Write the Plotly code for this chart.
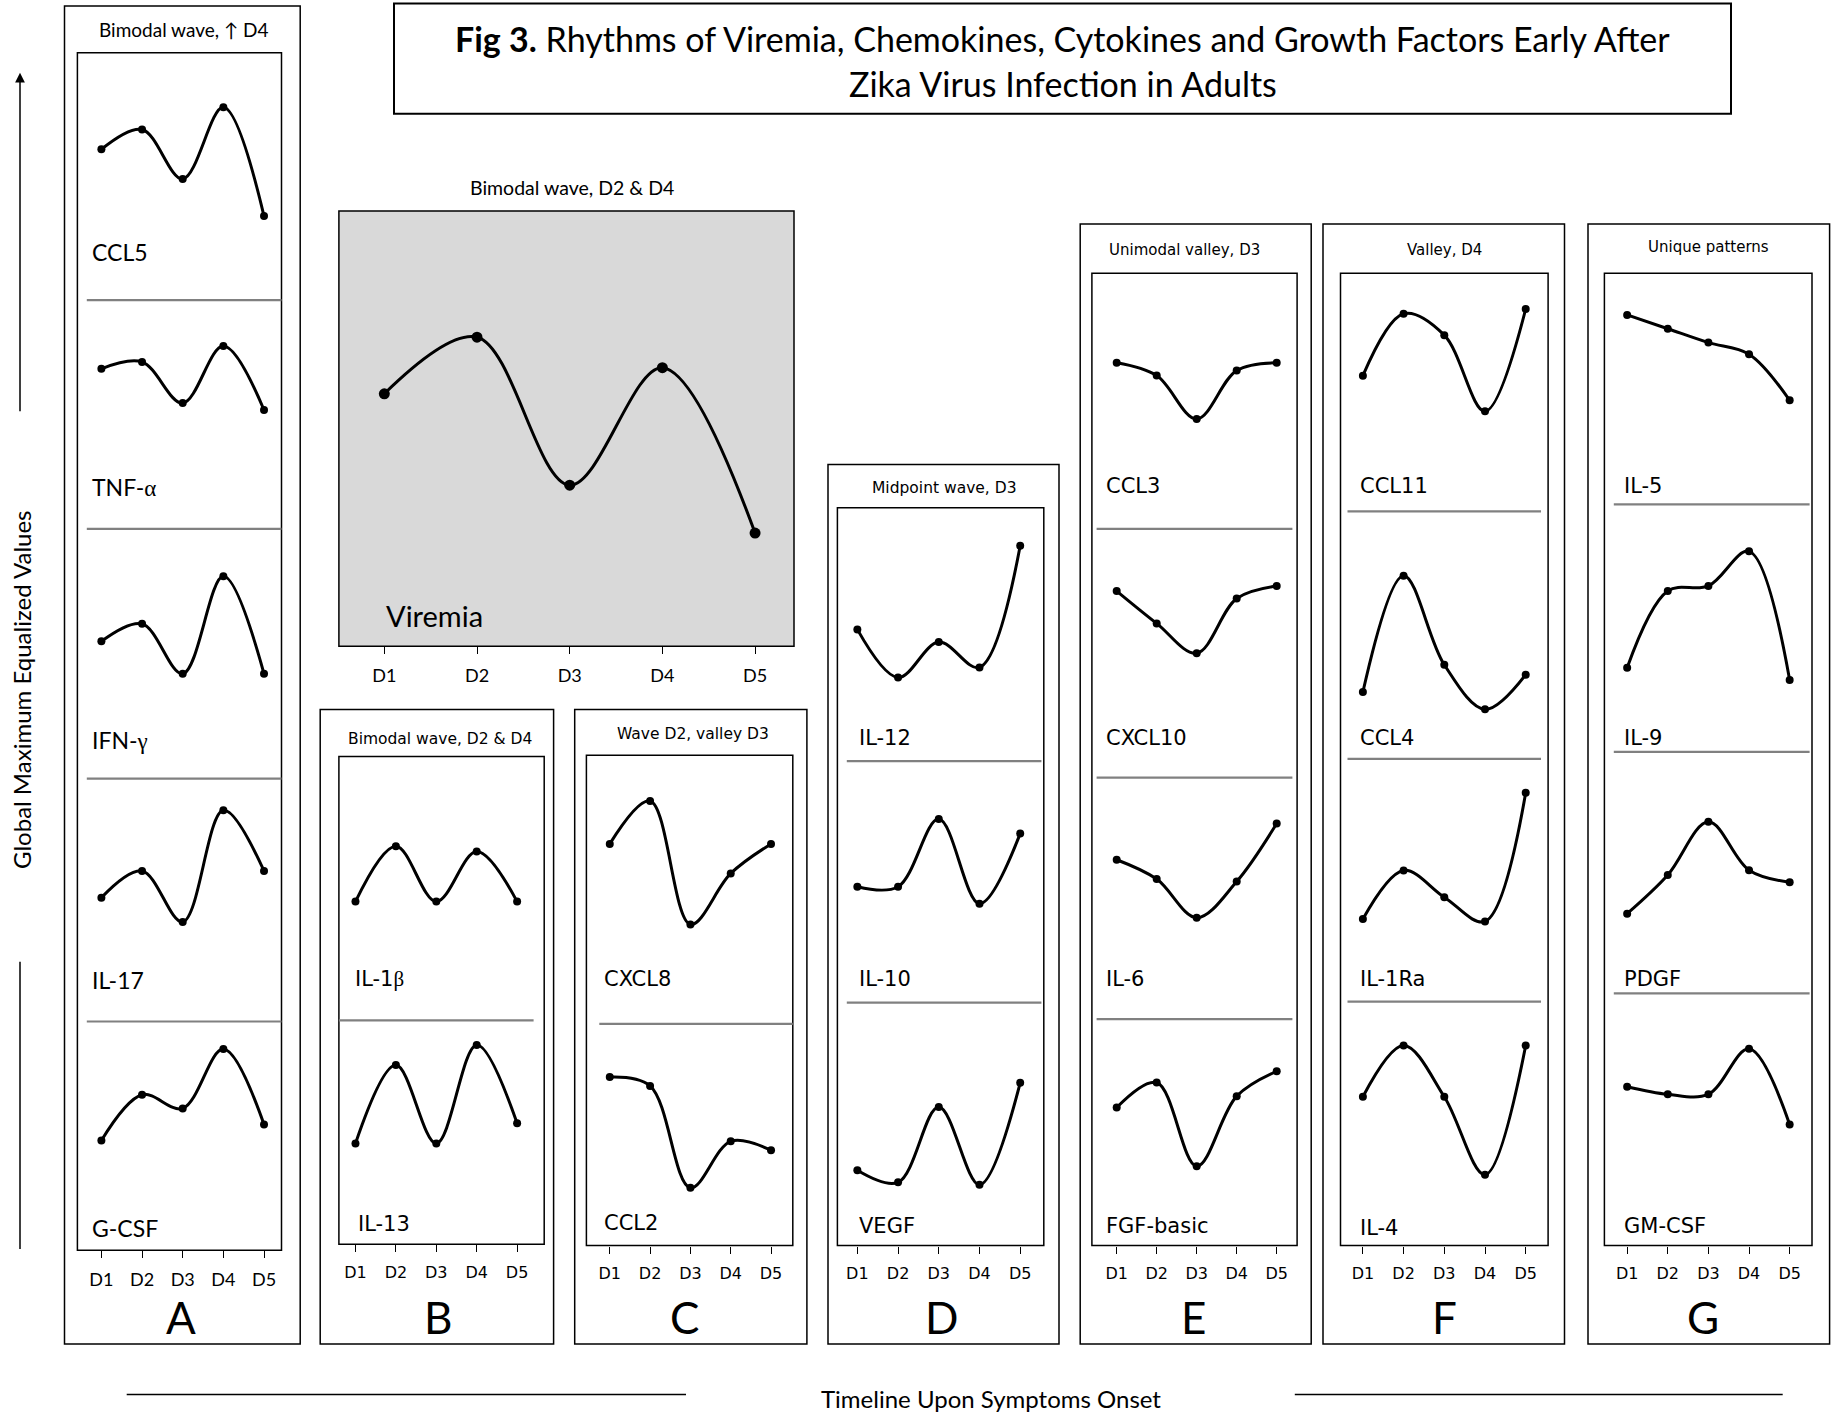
import plotly.graph_objects as go

# ---------------------------------------------------------------------------
# Data: global-maximum-equalized values per analyte, days D1..D5 after onset
# ---------------------------------------------------------------------------
DAYS = ["D1", "D2", "D3", "D4", "D5"]
DAY_IDX = [1, 2, 3, 4, 5]

# A - bimodal wave, higher peak at D4
CCL5 = [0.61, 0.69, 0.49, 0.78, 0.34]
TNF_A = [0.70, 0.73, 0.55, 0.80, 0.52]
IFN_G = [0.55, 0.62, 0.42, 0.81, 0.42]
IL17 = [0.51, 0.62, 0.41, 0.87, 0.62]
G_CSF = [0.48, 0.68, 0.62, 0.88, 0.55]

# Viremia - bimodal wave, D2 & D4
VIREMIA = [0.58, 0.71, 0.37, 0.64, 0.26]

# B - bimodal wave, D2 & D4
IL1B = [0.45, 0.66, 0.45, 0.64, 0.45]
IL13 = [0.45, 0.80, 0.45, 0.89, 0.54]

# C - wave D2, valley D3
CXCL8 = [0.67, 0.83, 0.37, 0.56, 0.67]
CCL2 = [0.76, 0.72, 0.26, 0.47, 0.43]

# D - midpoint wave, D3
IL12 = [0.52, 0.33, 0.47, 0.37, 0.85]
IL10 = [0.48, 0.48, 0.76, 0.41, 0.70]
VEGF = [0.31, 0.26, 0.57, 0.25, 0.67]

# E - unimodal valley, D3
CCL3 = [0.65, 0.60, 0.43, 0.62, 0.65]
CXCL10 = [0.75, 0.62, 0.50, 0.72, 0.77]
IL6 = [0.66, 0.58, 0.42, 0.57, 0.81]
FGF_BASIC = [0.61, 0.72, 0.35, 0.66, 0.77]

# F - valley, D4
CCL11 = [0.57, 0.83, 0.74, 0.42, 0.85]
CCL4 = [0.27, 0.74, 0.38, 0.20, 0.34]
IL1RA = [0.34, 0.54, 0.43, 0.33, 0.86]
IL4 = [0.61, 0.82, 0.61, 0.29, 0.82]

# G - unique patterns
IL5 = [0.82, 0.76, 0.70, 0.65, 0.45]
IL9 = [0.34, 0.65, 0.67, 0.81, 0.29]
PDGF = [0.33, 0.49, 0.71, 0.51, 0.46]
GM_CSF = [0.63, 0.60, 0.60, 0.78, 0.48]

GREEK = "<span style='font-family:Liberation Serif'>{}</span>"

# ---------------------------------------------------------------------------
# Page geometry (pixels) and helpers to convert into paper coordinates
# ---------------------------------------------------------------------------
W, H = 1839, 1412


def fx(x):
    return x / W


def fy(y):
    return 1 - y / H


SANS_A = "Lato"
SANS_B = "DejaVu Sans"

panels = [
    dict(letter="A", title="Bimodal wave, \u2191 D4", outer=(64.5, 5.9, 300.2, 1344),
         inner=(77.4, 52.8, 281.5, 1250.2),
         rows=[52.8, 300.2, 528.9, 778.7, 1021.5, 1250.2], sep=(86.8, 281.5),
         xrange=(0.41, 5.43),
         series=[("CCL5", CCL5), ("TNF-" + GREEK.format("\u03b1"), TNF_A),
                 ("IFN-" + GREEK.format("\u03b3"), IFN_G), ("IL-17", IL17), ("G-CSF", G_CSF)],
         label_x=[90.3] * 5, label_y=[252.2, 486.7, 740, 980.5, 1228],
         title_xy=(183, 29.3), letter_x=180.6, font=SANS_A,
         label_size=23, tick_size=18, title_size=19, msize=8),
    dict(letter=None, title="Bimodal wave, D2 & D4", outer=None,
         inner=(338.9, 211, 794, 646.2), fill="#d9d9d9",
         rows=[211, 646.2], sep=None, xrange=(0.51, 5.42),
         series=[("Viremia", VIREMIA)],
         label_x=[383.5], label_y=[615.7],
         title_xy=(572.3, 187.6), letter_x=None, font=SANS_A,
         label_size=29, tick_size=18, title_size=19.5, msize=11),
    dict(letter="B", title="Bimodal wave, D2 & D4", outer=(320.2, 709.5, 553.6, 1344),
         inner=(338.9, 756.5, 544.2, 1244.3),
         rows=[756.5, 1020.3, 1244.3], sep=(338.9, 533.6), xrange=(0.59, 5.67),
         series=[("IL-1" + GREEK.format("\u03b2"), IL1B), ("IL-13", IL13)],
         label_x=[352.5, 355.5], label_y=[979.3, 1224.4],
         title_xy=(439.8, 738.9), letter_x=437.5, font=SANS_B,
         label_size=21, tick_size=16, title_size=15.5, msize=8),
    dict(letter="C", title="Wave D2, valley D3", outer=(574.7, 709.5, 806.9, 1344),
         inner=(586.4, 755.3, 792.8, 1245.5),
         rows=[755.3, 1023.8, 1245.5], sep=(599.3, 792.8), xrange=(0.42, 5.54),
         series=[("CXCL8", CXCL8), ("CCL2", CCL2)],
         label_x=[601.5, 601.5], label_y=[979.3, 1223.3],
         title_xy=(693.1, 734.2), letter_x=684.9, font=SANS_B,
         label_size=21, tick_size=16, title_size=15.5, msize=8),
    dict(letter="D", title="Midpoint wave, D3", outer=(828, 464.4, 1059, 1344),
         inner=(837.4, 507.8, 1043.8, 1245.5),
         rows=[507.8, 761.1, 1002.7, 1245.5], sep=(846.8, 1041.4), xrange=(0.51, 5.58),
         series=[("IL-12", IL12), ("IL-10", IL10), ("VEGF", VEGF)],
         label_x=[857.3] * 3, label_y=[737.7, 979.3, 1225.6],
         title_xy=(944.1, 487.9), letter_x=941.8, font=SANS_B,
         label_size=21, tick_size=16, title_size=15.5, msize=8),
    dict(letter="E", title="Unimodal valley, D3", outer=(1080.2, 224, 1311.2, 1344),
         inner=(1091.9, 273.3, 1297.1, 1245.5),
         rows=[273.3, 528.9, 777.6, 1019.2, 1245.5], sep=(1096.6, 1292.4), xrange=(0.38, 5.51),
         series=[("CCL3", CCL3), ("CXCL10", CXCL10), ("IL-6", IL6), ("FGF-basic", FGF_BASIC)],
         label_x=[1103.6] * 4, label_y=[485.5, 737.7, 979.3, 1225.6],
         title_xy=(1184.5, 249.8), letter_x=1193.9, font=SANS_B,
         label_size=21, tick_size=16, title_size=15, msize=8),
    dict(letter="F", title="Valley, D4", outer=(1323, 224, 1564.5, 1344),
         inner=(1340.5, 273.3, 1548.1, 1245.5),
         rows=[273.3, 511.3, 758.8, 1001.6, 1245.5], sep=(1347.5, 1541), xrange=(0.45, 5.55),
         series=[("CCL11", CCL11), ("CCL4", CCL4), ("IL-1Ra", IL1RA), ("IL-4", IL4)],
         label_x=[1358] * 4, label_y=[485.5, 737.7, 979.3, 1228],
         title_xy=(1444.9, 249.8), letter_x=1444.9, font=SANS_B,
         label_size=21, tick_size=16, title_size=15, msize=8),
    dict(letter="G", title="Unique patterns", outer=(1588, 224, 1829.6, 1344),
         inner=(1604.4, 273.3, 1812, 1245.5),
         rows=[273.3, 504.3, 751.8, 993.4, 1245.5], sep=(1613.8, 1809.6), xrange=(0.44, 5.55),
         series=[("IL-5", IL5), ("IL-9", IL9), ("PDGF", PDGF), ("GM-CSF", GM_CSF)],
         label_x=[1622] * 4, label_y=[485.5, 737.7, 979.3, 1225.6],
         title_xy=(1708.8, 247.5), letter_x=1702.9, font=SANS_B,
         label_size=21, tick_size=16, title_size=15, msize=8),
]

fig = go.Figure()
layout = dict(
    width=W, height=H, autosize=False,
    margin=dict(l=0, r=0, t=0, b=0),
    paper_bgcolor="white", plot_bgcolor="rgba(0,0,0,0)",
    showlegend=False,
)
shapes = []
annotations = []


def rect(x0, y0, x1, y1, width=1.5, fill=None, layer="above"):
    shapes.append(dict(type="rect", xref="paper", yref="paper",
                       x0=fx(x0), x1=fx(x1), y0=fy(y1), y1=fy(y0),
                       line=dict(color="black", width=width),
                       fillcolor=fill if fill else "rgba(0,0,0,0)", layer=layer))


def hline(x0, x1, y, color="black", width=1.5):
    shapes.append(dict(type="line", xref="paper", yref="paper",
                       x0=fx(x0), x1=fx(x1), y0=fy(y), y1=fy(y),
                       line=dict(color=color, width=width)))


def text(x, y, s, size, family, xanchor="center", yanchor="middle", angle=0):
    annotations.append(dict(text=s, x=fx(x), y=fy(y), xref="paper", yref="paper",
                            showarrow=False, xanchor=xanchor, yanchor=yanchor,
                            textangle=angle,
                            font=dict(size=size, family=family, color="black")))


n = 0
for p in panels:
    il, it, ir, ib = p["inner"]
    if p["outer"]:
        rect(*p["outer"], width=1.5)
    if p.get("fill"):
        rect(il, it, ir, ib, width=1.5, fill=p["fill"], layer="below")
    else:
        rect(il, it, ir, ib, width=1.5)

    rows = p["rows"]
    nrows = len(p["series"])
    for i, (name, vals) in enumerate(p["series"]):
        n += 1
        sfx = "" if n == 1 else str(n)
        top, bot = rows[i], rows[i + 1]
        last = i == nrows - 1
        fig.add_trace(go.Scatter(
            x=DAY_IDX, y=vals, mode="lines+markers",
            line=dict(shape="spline", smoothing=1, color="black", width=3),
            marker=dict(size=p["msize"], color="black"),
            xaxis="x" + sfx, yaxis="y" + sfx, hoverinfo="skip", cliponaxis=False,
        ))
        layout["xaxis" + sfx] = dict(
            domain=[fx(il), fx(ir)], range=list(p["xrange"]), anchor="y" + sfx,
            showgrid=False, zeroline=False, showline=False, fixedrange=True,
            tickvals=DAY_IDX, ticktext=DAYS,
            showticklabels=last, ticks="outside" if last else "",
            ticklen=7, tickwidth=1.3, tickcolor="black",
            ticklabelstandoff=6,
            tickfont=dict(size=p["tick_size"], family=p["font"], color="black"),
        )
        layout["yaxis" + sfx] = dict(
            domain=[fy(bot), fy(top)], range=[0, 1], anchor="x" + sfx,
            showgrid=False, zeroline=False, showline=False, showticklabels=False,
            fixedrange=True,
        )
        text(p["label_x"][i], p["label_y"][i], name, p["label_size"], p["font"],
             xanchor="left")
        if p["sep"] and not last:
            hline(p["sep"][0], p["sep"][1], bot, color="#808080", width=2.2)

    text(p["title_xy"][0], p["title_xy"][1], p["title"], p["title_size"], p["font"])
    if p["letter"]:
        text(p["letter_x"], 1317, p["letter"], 44, SANS_A)

# Figure title box
rect(394, 3.5, 1731, 113.8, width=2)
text(1062.6, 38.7,
     "<b>Fig 3.</b> Rhythms of Viremia, Chemokines, Cytokines and Growth Factors Early After",
     34, SANS_A)
text(1062.6, 83.3, "Zika Virus Infection in Adults", 34, SANS_A)

# Vertical axis caption with arrow
text(21, 690, "Global Maximum Equalized Values", 24, SANS_A, angle=-90)
annotations.append(dict(x=fx(20), y=fy(72.7), xref="paper", yref="paper",
                        ax=0, ay=340, axref="pixel", ayref="pixel", text="",
                        showarrow=True, arrowhead=2, arrowsize=1.3, arrowwidth=1.5,
                        arrowcolor="black"))
shapes.append(dict(type="line", xref="paper", yref="paper",
                   x0=fx(20), x1=fx(20), y0=fy(961.7), y1=fy(1249),
                   line=dict(color="black", width=1.5)))

# Horizontal timeline caption
text(991, 1398, "Timeline Upon Symptoms Onset", 24, SANS_A)
hline(126.7, 686, 1394.5)
hline(1294.8, 1782.7, 1394.5)

layout["shapes"] = shapes
layout["annotations"] = annotations
fig.update_layout(**layout)
fig.write_html("out.html")
